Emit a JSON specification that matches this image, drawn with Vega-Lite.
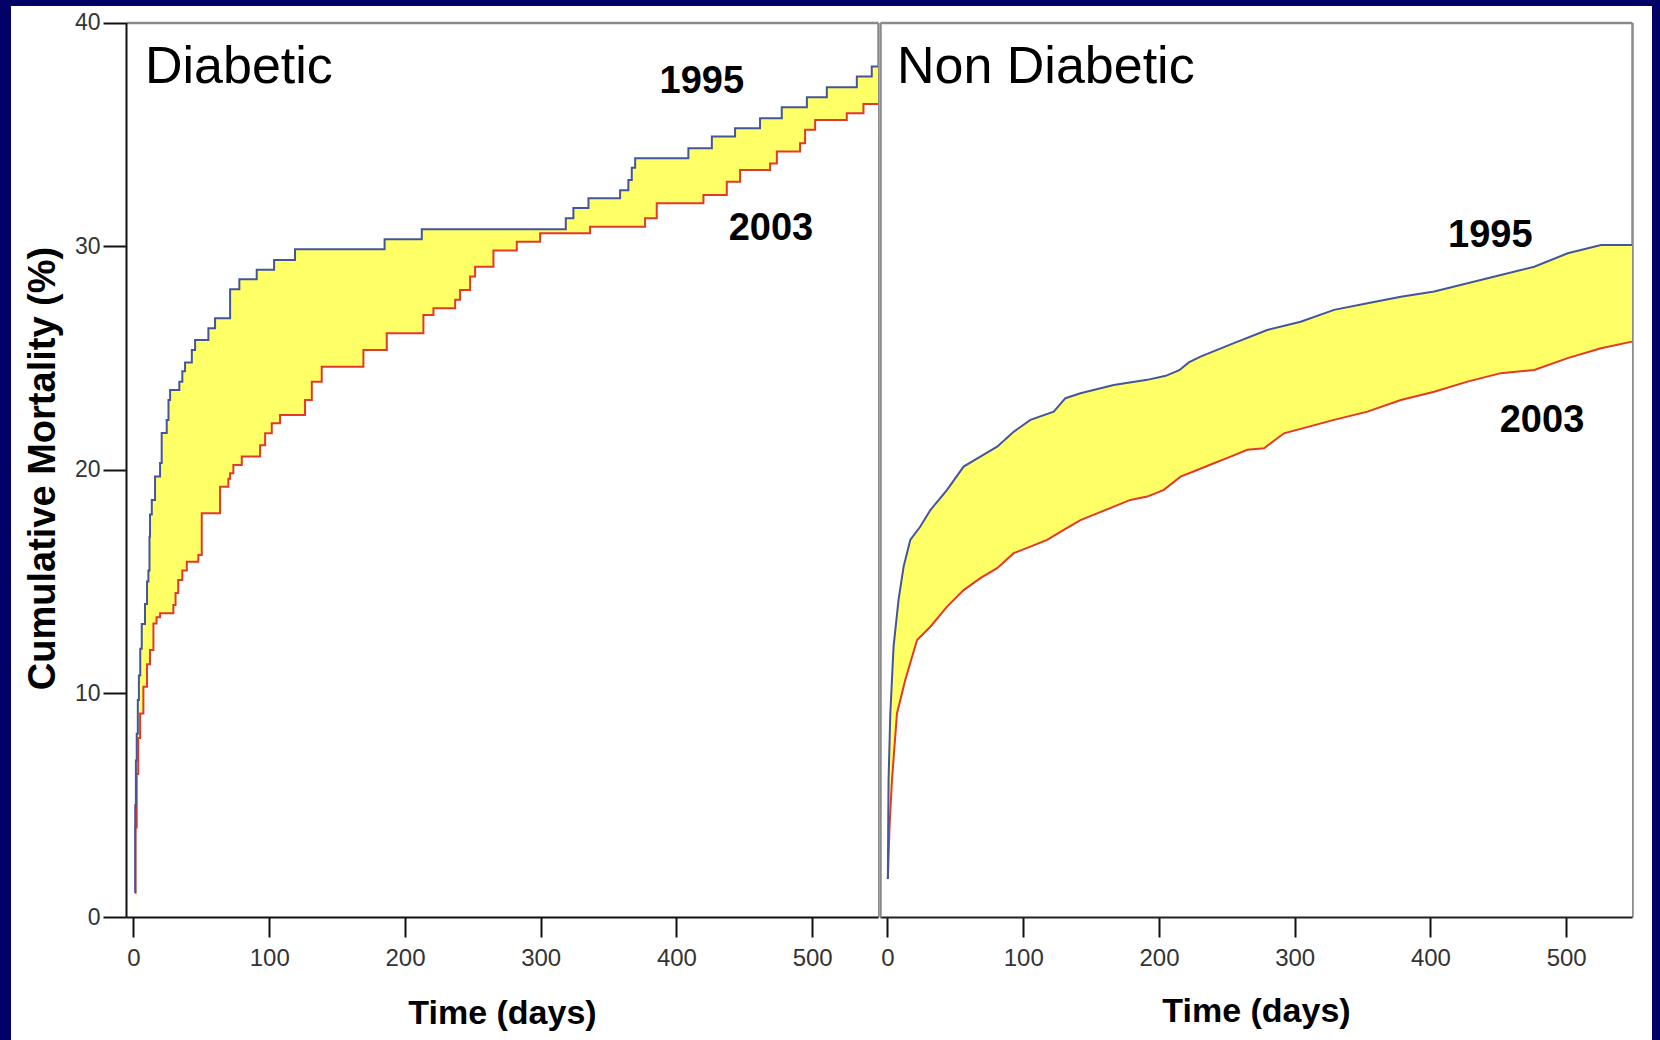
{
  "$schema": "https://vega.github.io/schema/vega-lite/v6.json",
  "background": "#000066",
  "padding": {"left": 11, "top": 6, "right": 8, "bottom": 0},
  "spacing": 0,
  "bounds": "flush",
  "config": {"font": "Liberation Sans", "view": {"stroke": null}},
  "datasets": {
    "diab95": [
      {"day":1.0,"pct":1.1},{"day":1.3,"pct":5.0},{"day":1.8,"pct":7.0},{"day":2.4,"pct":8.2},{"day":3.2,"pct":9.7},{"day":4.0,"pct":10.8},{"day":5.0,"pct":12.0},{"day":6.1,"pct":13.1},{"day":8.5,"pct":14.0},{"day":10.0,"pct":15.0},{"day":11.0,"pct":15.5},{"day":11.8,"pct":17.0},{"day":12.2,"pct":18.0},{"day":13.5,"pct":18.65},{"day":15.9,"pct":19.7},{"day":19.6,"pct":20.3},{"day":20.8,"pct":21.64},{"day":24.5,"pct":22.23},{"day":25.8,"pct":23.12},{"day":27,"pct":23.57},{"day":33.8,"pct":23.94},{"day":36,"pct":24.4},{"day":38,"pct":24.8},{"day":43,"pct":25.36},{"day":45.4,"pct":25.8},{"day":55.2,"pct":26.33},{"day":60.1,"pct":26.77},{"day":71.2,"pct":28.07},{"day":78,"pct":28.52},{"day":90.8,"pct":28.94},{"day":103.6,"pct":29.38},{"day":119,"pct":29.86},{"day":185,"pct":30.31},{"day":212.4,"pct":30.75},{"day":318.5,"pct":31.25},{"day":324.1,"pct":31.7},{"day":335.2,"pct":32.14},{"day":358.5,"pct":32.5},{"day":364.6,"pct":32.96},{"day":367.1,"pct":33.5},{"day":369.6,"pct":33.93},{"day":408.8,"pct":34.38},{"day":426.1,"pct":34.9},{"day":443.2,"pct":35.27},{"day":461.6,"pct":35.72},{"day":477.6,"pct":36.21},{"day":496.1,"pct":36.66},{"day":510.8,"pct":37.1},{"day":532.9,"pct":37.58},{"day":543.9,"pct":38.03},{"day":548.5,"pct":38.03}
    ],
    "diab03": [
      {"day":1.0,"pct":1.1},{"day":1.5,"pct":4.0},{"day":2.4,"pct":6.4},{"day":3.5,"pct":8.0},{"day":4.9,"pct":9.1},{"day":7.3,"pct":10.3},{"day":10,"pct":11.3},{"day":12.2,"pct":11.94},{"day":14.7,"pct":13.13},{"day":17,"pct":13.4},{"day":19.6,"pct":13.58},{"day":29.4,"pct":13.95},{"day":31,"pct":14.49},{"day":33,"pct":15.07},{"day":36,"pct":15.5},{"day":39.3,"pct":15.89},{"day":47.8,"pct":16.19},{"day":50.3,"pct":18.05},{"day":63.8,"pct":19.24},{"day":69.9,"pct":19.6},{"day":71.2,"pct":19.84},{"day":73.6,"pct":20.21},{"day":79.8,"pct":20.59},{"day":93.3,"pct":21.1},{"day":97,"pct":21.63},{"day":101.9,"pct":22.08},{"day":108,"pct":22.45},{"day":126.4,"pct":23.12},{"day":131.4,"pct":23.94},{"day":138.7,"pct":24.61},{"day":169.4,"pct":25.36},{"day":186.6,"pct":26.1},{"day":213.6,"pct":26.92},{"day":221,"pct":27.22},{"day":237,"pct":27.6},{"day":240.6,"pct":28.04},{"day":248,"pct":28.64},{"day":251.7,"pct":29.08},{"day":265.2,"pct":29.8},{"day":282.4,"pct":30.2},{"day":299.6,"pct":30.58},{"day":336.4,"pct":30.87},{"day":376.9,"pct":31.25},{"day":385.5,"pct":31.92},{"day":419.9,"pct":32.29},{"day":437.1,"pct":32.88},{"day":446.9,"pct":33.4},{"day":469,"pct":33.7},{"day":474,"pct":34.23},{"day":491.1,"pct":34.6},{"day":494.8,"pct":35.2},{"day":502.2,"pct":35.64},{"day":525.5,"pct":35.94},{"day":537.8,"pct":36.36},{"day":548.5,"pct":36.36}
    ],
    "non95": [
      {"day":0.3,"pct":1.7},{"day":0.6,"pct":4.5},{"day":0.8,"pct":6.1},{"day":2.1,"pct":9.1},{"day":4.5,"pct":12.1},{"day":8.2,"pct":14.2},{"day":11.9,"pct":15.67},{"day":16.8,"pct":16.86},{"day":24.2,"pct":17.46},{"day":31.6,"pct":18.2},{"day":43.9,"pct":19.1},{"day":56.1,"pct":20.14},{"day":68.4,"pct":20.59},{"day":80.8,"pct":21.03},{"day":93,"pct":21.7},{"day":105.3,"pct":22.23},{"day":122.5,"pct":22.6},{"day":131.1,"pct":23.2},{"day":142.2,"pct":23.42},{"day":166.7,"pct":23.79},{"day":191.4,"pct":24.02},{"day":205,"pct":24.2},{"day":215,"pct":24.45},{"day":222,"pct":24.8},{"day":230.6,"pct":25.06},{"day":255.2,"pct":25.66},{"day":279.8,"pct":26.25},{"day":304.4,"pct":26.62},{"day":329,"pct":27.15},{"day":353.6,"pct":27.45},{"day":378.2,"pct":27.74},{"day":402.8,"pct":27.97},{"day":427.3,"pct":28.34},{"day":451.9,"pct":28.71},{"day":476.5,"pct":29.08},{"day":501.1,"pct":29.68},{"day":525.7,"pct":30.05},{"day":548.5,"pct":30.05}
    ],
    "non03": [
      {"day":0.3,"pct":1.7},{"day":1.5,"pct":4.0},{"day":3.3,"pct":6.1},{"day":7,"pct":9.1},{"day":13.1,"pct":10.6},{"day":21.8,"pct":12.39},{"day":31.6,"pct":12.98},{"day":43.9,"pct":13.88},{"day":56.1,"pct":14.62},{"day":68.4,"pct":15.15},{"day":80.8,"pct":15.6},{"day":93,"pct":16.27},{"day":105.3,"pct":16.56},{"day":117.6,"pct":16.86},{"day":129.9,"pct":17.31},{"day":142.2,"pct":17.75},{"day":154.5,"pct":18.05},{"day":166.7,"pct":18.35},{"day":179,"pct":18.65},{"day":191.4,"pct":18.8},{"day":203.6,"pct":19.1},{"day":215.9,"pct":19.69},{"day":228.2,"pct":19.99},{"day":240.5,"pct":20.29},{"day":252.8,"pct":20.59},{"day":265.1,"pct":20.89},{"day":277.4,"pct":20.96},{"day":292.1,"pct":21.63},{"day":329,"pct":22.23},{"day":353.6,"pct":22.6},{"day":378.2,"pct":23.12},{"day":402.8,"pct":23.49},{"day":427.3,"pct":23.94},{"day":451.9,"pct":24.32},{"day":476.5,"pct":24.46},{"day":501.1,"pct":24.99},{"day":525.7,"pct":25.43},{"day":548.5,"pct":25.73}
    ],
    "titleL": [{"day":8.5,"pct":37.29,"label":"Diabetic"}],
    "yearsL": [{"day":418.7,"pct":36.84,"label":"1995"},{"day":469.6,"pct":30.28,"label":"2003"}],
    "titleR": [{"day":7.0,"pct":37.29,"label":"Non Diabetic"}],
    "yearsR": [{"day":444.1,"pct":29.98,"label":"1995"},{"day":482.2,"pct":21.7,"label":"2003"}]
  },
  "hconcat": [
    {
      "width": 868,
      "height": 1034,
      "view": {"fill": "white", "stroke": null},
      "resolve": {"scale": {"x": "independent", "y": "independent"}},
      "layer": [
        {
          "encoding": {
            "x": {"field": "day", "type": "quantitative",
              "scale": {"domain": [-5.5, 548.5], "range": [115, 867], "nice": false, "zero": false},
              "axis": {"orient": "bottom", "offset": -123, "values": [0,100,200,300,400,500], "grid": false, "zindex": 1,
                "domainColor": "#111", "domainWidth": 2, "tickColor": "#111", "tickWidth": 2, "tickSize": 20,
                "labelFont": "Liberation Sans", "labelFontSize": 24, "labelColor": "#333", "labelPadding": 9, "labelFlush": false,
                "title": "Time (days)", "titleFont": "Liberation Sans", "titleFontSize": 34, "titleFontWeight": "bold", "titleColor": "#000",
                "titleX": 491, "titleY": 96, "titleAlign": "center", "titleBaseline": "middle"}},
            "y": {"field": "pct", "type": "quantitative",
              "scale": {"domain": [0, 40], "range": [911, 16.5], "nice": false, "zero": true},
              "axis": {"orient": "left", "offset": -115, "values": [0,10,20,30,40], "grid": false, "zindex": 1,
                "domainColor": "#111", "domainWidth": 2, "tickColor": "#111", "tickWidth": 2, "tickSize": 23,
                "labelFont": "Liberation Sans", "labelFontSize": 23, "labelColor": "#333", "labelPadding": 3,
                "title": "Cumulative Mortality (%)", "titleFont": "Liberation Sans", "titleFontSize": 38, "titleFontWeight": "bold", "titleColor": "#000",
                "titleAngle": -90, "titleX": -83, "titleY": 462, "titleAlign": "center", "titleBaseline": "middle"}}
          },
          "layer": [
            {"data": {"name": "diab95"}, "mark": {"type": "area", "interpolate": "step-after", "color": "#ffff66"}},
            {"data": {"name": "diab03"}, "mark": {"type": "area", "interpolate": "step-after", "color": "#ffffff"}},
            {"data": {"name": "diab03"}, "mark": {"type": "line", "interpolate": "step-after", "color": "#e23a2a", "strokeWidth": 2}},
            {"data": {"name": "diab95"}, "mark": {"type": "line", "interpolate": "step-after", "color": "#44559a", "strokeWidth": 2}}
          ]
        },
        {
          "encoding": {
            "x": {"field": "day", "type": "quantitative",
              "scale": {"domain": [-5.5, 548.5], "range": [115, 867], "nice": false, "zero": false},
              "axis": {"orient": "top", "offset": -16.5, "ticks": false, "labels": false, "title": null, "grid": false,
                "domainColor": "#8a8a8a", "domainWidth": 2.5}},
            "y": {"field": "pct", "type": "quantitative",
              "scale": {"domain": [0, 40], "range": [911, 16.5], "nice": false, "zero": true},
              "axis": {"orient": "right", "offset": -1, "ticks": false, "labels": false, "title": null, "grid": false,
                "domainColor": "#8a8a8a", "domainWidth": 2.5}},
            "text": {"field": "label", "type": "nominal"}
          },
          "layer": [
            {"data": {"name": "titleL"}, "mark": {"type": "text", "align": "left", "baseline": "alphabetic", "font": "Liberation Sans", "fontSize": 52, "color": "#000"}},
            {"data": {"name": "yearsL"}, "mark": {"type": "text", "align": "center", "baseline": "alphabetic", "font": "Liberation Sans", "fontSize": 38, "fontWeight": "bold", "color": "#000"}}
          ]
        }
      ]
    },
    {
      "width": 773,
      "height": 1034,
      "view": {"fill": "white", "stroke": null},
      "resolve": {"scale": {"x": "independent", "y": "independent"}},
      "layer": [
        {
          "encoding": {
            "x": {"field": "day", "type": "quantitative",
              "scale": {"domain": [-5.5, 548.5], "range": [1, 753], "nice": false, "zero": false},
              "axis": {"orient": "bottom", "offset": -123, "values": [0,100,200,300,400,500], "grid": false, "zindex": 1,
                "domainColor": "#222", "domainWidth": 2, "tickColor": "#111", "tickWidth": 2, "tickSize": 20,
                "labelFont": "Liberation Sans", "labelFontSize": 24, "labelColor": "#333", "labelPadding": 9, "labelFlush": false,
                "title": "Time (days)", "titleFont": "Liberation Sans", "titleFontSize": 34, "titleFontWeight": "bold", "titleColor": "#000",
                "titleX": 377, "titleY": 94, "titleAlign": "center", "titleBaseline": "middle"}},
            "y": {"field": "pct", "type": "quantitative",
              "scale": {"domain": [0, 40], "range": [911, 16.5], "nice": false, "zero": true},
              "axis": {"orient": "left", "offset": -1, "ticks": false, "labels": false, "title": null, "grid": false, "zindex": 1,
                "domainColor": "#8a8a8a", "domainWidth": 2.5}}
          },
          "layer": [
            {"data": {"name": "non95"}, "mark": {"type": "area", "color": "#ffff66"}},
            {"data": {"name": "non03"}, "mark": {"type": "area", "color": "#ffffff"}},
            {"data": {"name": "non03"}, "mark": {"type": "line", "color": "#e23a2a", "strokeWidth": 2}},
            {"data": {"name": "non95"}, "mark": {"type": "line", "color": "#44559a", "strokeWidth": 2}}
          ]
        },
        {
          "encoding": {
            "x": {"field": "day", "type": "quantitative",
              "scale": {"domain": [-5.5, 548.5], "range": [1, 753], "nice": false, "zero": false},
              "axis": {"orient": "top", "offset": -16.5, "ticks": false, "labels": false, "title": null, "grid": false,
                "domainColor": "#8a8a8a", "domainWidth": 2.5}},
            "y": {"field": "pct", "type": "quantitative",
              "scale": {"domain": [0, 40], "range": [911, 16.5], "nice": false, "zero": true},
              "axis": {"orient": "right", "offset": -20, "ticks": false, "labels": false, "title": null, "grid": false,
                "domainColor": "#8a8a8a", "domainWidth": 2.5}},
            "text": {"field": "label", "type": "nominal"}
          },
          "layer": [
            {"data": {"name": "titleR"}, "mark": {"type": "text", "align": "left", "baseline": "alphabetic", "font": "Liberation Sans", "fontSize": 52, "color": "#000"}},
            {"data": {"name": "yearsR"}, "mark": {"type": "text", "align": "center", "baseline": "alphabetic", "font": "Liberation Sans", "fontSize": 38, "fontWeight": "bold", "color": "#000"}}
          ]
        }
      ]
    }
  ]
}
